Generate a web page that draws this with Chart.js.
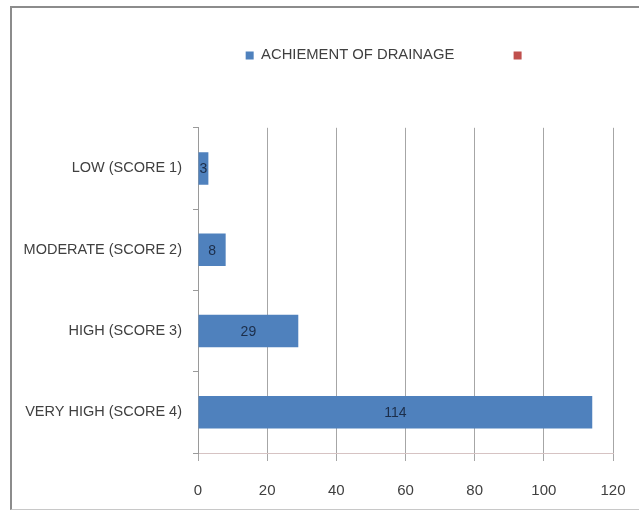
<!DOCTYPE html>
<html>
<head>
<meta charset="utf-8">
<script src="https://cdn.jsdelivr.net/npm/chart.js@4"></script>
<style>
  body { margin: 0; background: #fff; }
  #frame {
    position: absolute; left: 10px; top: 6px;
    width: 627px; height: 501px;
    border-top: 2px solid #8c8c8c;
    border-left: 2px solid #8c8c8c;
    border-bottom: 1px solid #c8c8c8;
  }
</style>
</head>
<body>
<div id="frame"><canvas id="drainageChart"></canvas></div>
<script>
const categories = ['LOW (SCORE 1)', 'MODERATE (SCORE 2)', 'HIGH (SCORE 3)', 'VERY HIGH (SCORE 4)'];
const drainageValues = [3, 8, 29, 114];
const seriesNames = ['ACHIEMENT OF DRAINAGE', ''];
const xTicks = [0, 20, 40, 60, 80, 100, 120];

const FONT = "'Liberation Sans', Arial, sans-serif";

// writes each bar's value in the middle of the bar
const barValues = {
  id: 'barValues',
  afterDatasetsDraw(chart) {
    const ctx = chart.ctx;
    const meta = chart.getDatasetMeta(0);
    ctx.save();
    ctx.font = '14px ' + FONT;
    ctx.fillStyle = '#1c2e4a';
    ctx.textAlign = 'center';
    ctx.textBaseline = 'middle';
    meta.data.forEach((bar, i) => {
      ctx.fillText(String(drainageValues[i]), (bar.x + bar.base) / 2, bar.y + 1);
    });
    ctx.restore();
  }
};

window.addEventListener('load', () => {
  const ctx = document.getElementById('drainageChart').getContext('2d');
  new Chart(ctx, {
    type: 'bar',
    data: {
      labels: categories,
      datasets: [{
        label: seriesNames[0],
        data: drainageValues,
        backgroundColor: '#4f81bd',
        borderWidth: 0,
        categoryPercentage: 1,
        barPercentage: 0.4
      }, {
        label: seriesNames[1],
        data: [],
        backgroundColor: '#c0504d'
      }]
    },
    options: {
      indexAxis: 'y',
      responsive: true,
      maintainAspectRatio: false,
      animation: false,
      grouped: false,
      layout: { padding: { left: 8, right: 26, top: 30, bottom: 0 } },
      plugins: {
        legend: {
          position: 'top',
          align: 'end',
          labels: {
            boxWidth: 8,
            boxHeight: 8,
            padding: 10,
            color: '#404040',
            font: { family: FONT, size: 14.8 },
            // keep the gap Excel leaves around the unnamed second entry
            generateLabels(chart) {
              const items = Chart.defaults.plugins.legend.labels.generateLabels(chart);
              items[0].text = items[0].text + ' '.repeat(12);
              items[1].text = ' '.repeat(18);
              return items;
            }
          }
        },
        // empty title used as a gap between legend and plot
        title: { display: true, text: '', weight: 500, font: { size: 10 }, padding: { top: 0, bottom: 43 } },
        tooltip: { enabled: false }
      },
      scales: {
        x: {
          min: 0,
          max: 120,
          afterBuildTicks(scale) { scale.ticks = xTicks.map(v => ({ value: v })); },
          afterFit(scale) { scale.height = 56; scale.paddingRight = 0; },
          grid: { color: '#a6a6a6', tickLength: 8, tickColor: '#a6a6a6' },
          border: { color: '#d6c3c3' },
          ticks: { color: '#404040', padding: 21, font: { family: FONT, size: 15 } }
        },
        y: {
          afterFit(scale) { scale.width = 178; },
          grid: { drawOnChartArea: false, tickLength: 5, color: '#9a9a9a', offset: true },
          border: { color: '#9a9a9a' },
          ticks: { color: '#404040', padding: 11, font: { family: FONT, size: 14.5 } }
        }
      }
    },
    plugins: [barValues]
  });
});
</script>
</body>
</html>
